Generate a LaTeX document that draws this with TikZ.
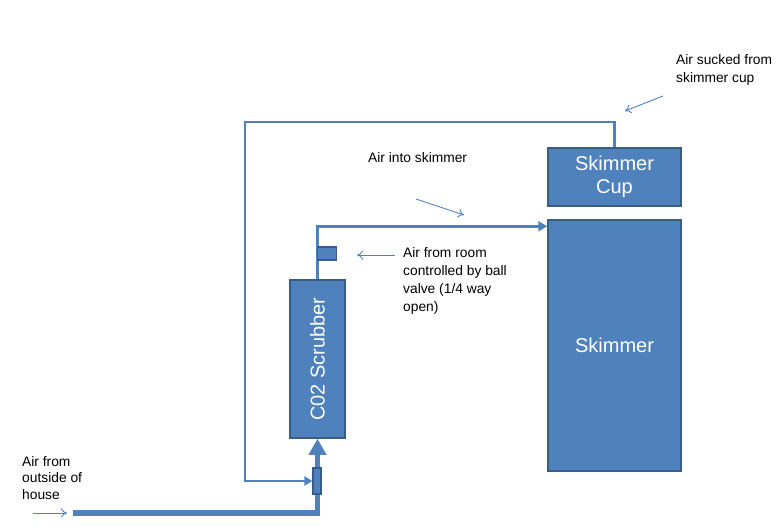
\documentclass[tikz,border=0pt]{standalone}
\usepackage{fontspec}
\setmainfont{Liberation Sans}
\usetikzlibrary{arrows.meta}
\definecolor{pipeblue}{HTML}{4F81BD}
\definecolor{edgeblue}{HTML}{385D8A}
\begin{document}
\begin{tikzpicture}[
  x=1pt, y=-1pt,
  tank/.style={draw=edgeblue, line width=1.5pt, fill=pipeblue, text=white, inner sep=0pt,
    font=\fontsize{20}{23}\selectfont, align=center},
  note/.style={anchor=north west, inner sep=0pt, align=left, font=\fontsize{13.8}{18}\selectfont},
  pipe/.style={draw=pipeblue, line width=2.8pt},
  hint/.style={draw=pipeblue, line width=0.9pt, -{To[length=6pt, width=9pt]}},
]
\useasboundingbox (0,0) rectangle (782,525);
% zbiorniki
\node[tank, minimum width=133pt, minimum height=58pt] (cup) at (614.5,177) {Skimmer\\Cup};
\node[tank, minimum width=133pt, minimum height=251pt] (skimmer) at (614.5,345.5) {Skimmer};
\node[tank, minimum width=55pt, minimum height=158pt] (scrub) at (317.5,359) {\rotatebox{90}{C02 Scrubber}};
% rury
\coordinate (inlet) at (73,513);
\draw[draw=pipeblue, line width=5.5pt, -{Triangle[width=17pt, length=16pt]}] (inlet) -| (scrub.south);
\node[tank, line width=1.2pt, minimum width=8pt, minimum height=26pt] (valve) at (317,481) {};
\draw[pipe, -{Triangle[width=9pt, length=8pt]}] (cup.north) |- (245,122) |- (valve.west);
\draw[pipe, -{Triangle[width=10pt, length=9pt]}] (scrub.north) |- ([yshift=-7pt]skimmer.north west);
\node[tank, line width=1.2pt, minimum width=19pt, minimum height=13pt] (ball) at (327,253.5) {};
% opisy
\node[note] (intoLbl) at (368,152) {Air into skimmer};
\node[note] (roomLbl) at (403,247) {Air from room\\controlled by ball\\valve (1/4 way\\open)};
\node[note] (cupLbl) at (676,54) {Air sucked from\\skimmer cup};
\node[note, font=\fontsize{13.8}{16.5}\selectfont] (outLbl) at (22,456) {Air from\\outside of\\house};
\coordinate (intoA) at (416,199);  \coordinate (intoB) at (464,215);
\coordinate (roomA) at (395,255);  \coordinate (roomB) at (357,255);
\coordinate (cupA) at (663,96);    \coordinate (cupB) at (625,111);
\coordinate (outA) at (33,513);    \coordinate (outB) at (67,513);
\draw[hint] (intoA) -- (intoB);
\draw[hint] (roomA) -- (roomB);
\draw[hint] (cupA) -- (cupB);
\draw[hint] (outA) -- (outB);
\end{tikzpicture}
\end{document}
